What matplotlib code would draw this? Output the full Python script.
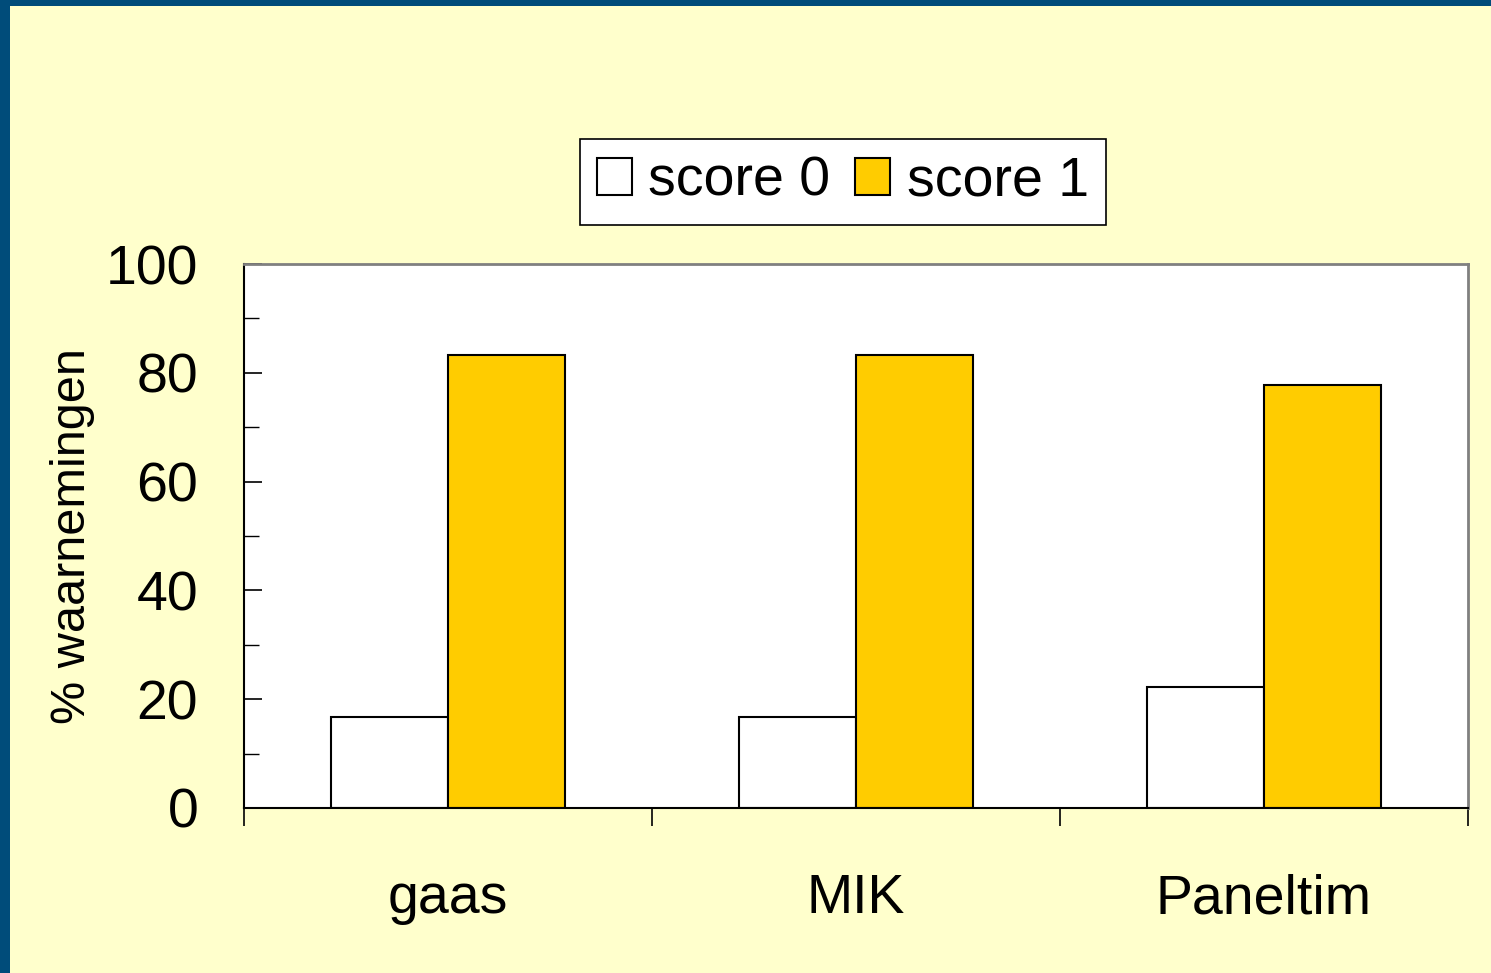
import matplotlib
matplotlib.use("Agg")
import matplotlib.pyplot as plt
from matplotlib.patches import Rectangle
from matplotlib.ticker import MultipleLocator, FixedLocator, NullFormatter
import numpy as np

# data
categories = ["gaas", "MIK", "Paneltim"]
score0 = [16.7, 16.7, 22.2]
score1 = [83.3, 83.3, 77.8]
series_names = ["score 0", "score 1"]

plt.rcParams['font.family'] = ['Liberation Sans', 'DejaVu Sans']

bg = "#FFFFCC"
border = "#004C7A"
gold = "#FFCC00"

fig = plt.figure(figsize=(14.91, 9.73), dpi=100, facecolor=bg)
ax = fig.add_axes([244/1491, 1-808/973, (1468-244)/1491, (808-264)/973])
ax.set_facecolor("white")

# dark border top and left
fig.add_artist(Rectangle((0, 1-6/973), 1, 6/973, transform=fig.transFigure,
                         facecolor=border, edgecolor="none", zorder=10))
fig.add_artist(Rectangle((0, 0), 10/1491, 1, transform=fig.transFigure,
                         facecolor=border, edgecolor="none", zorder=10))

x = np.arange(len(categories))
w = 0.287
b0 = ax.bar(x - w/2, score0, w, color="white", edgecolor="black", linewidth=1.5, label=series_names[0])
b1 = ax.bar(x + w/2, score1, w, color=gold, edgecolor="black", linewidth=1.5, label=series_names[1])

ax.set_xlim(-0.5, 2.5)
ax.set_ylim(0, 100)

# y axis
ax.yaxis.set_major_locator(MultipleLocator(20))
ax.yaxis.set_minor_locator(MultipleLocator(10))
ax.tick_params(axis="y", which="major", direction="in", length=13, width=1.2,
               labelsize=40, pad=33)
ax.tick_params(axis="y", which="minor", direction="in", length=11, width=1.0)
ax.set_ylabel("% waarnemingen", fontsize=35, labelpad=8)

# x axis: ticks at category boundaries, labels centered
ax.xaxis.set_major_locator(FixedLocator([-0.5, 0.5, 1.5, 2.5]))
ax.xaxis.set_major_formatter(NullFormatter())
ax.xaxis.set_minor_locator(FixedLocator(x))
ax.set_xticklabels(categories, minor=True)
ax.tick_params(axis="x", which="major", direction="out", length=13, width=1.2)
ax.tick_params(axis="x", which="minor", length=0, labelsize=40, pad=47)

for s in ["left", "bottom"]:
    ax.spines[s].set_color("black")
    ax.spines[s].set_linewidth(1.5)
for s in ["top", "right"]:
    ax.spines[s].set_color("#808080")
    ax.spines[s].set_linewidth(2)

leg = fig.legend(handles=[b0, b1], loc="center", ncol=2,
                 bbox_to_anchor=(843/1491, 1-182/973), fontsize=40,
                 frameon=True, fancybox=False, framealpha=1,
                 handlelength=0.63, handleheight=0.63, handletextpad=0.3,
                 columnspacing=0.45, borderpad=0.3, borderaxespad=0)
leg.get_frame().set_edgecolor("black")
leg.get_frame().set_linewidth(1.2)

fig.savefig("out.png", dpi=100, facecolor=bg)
